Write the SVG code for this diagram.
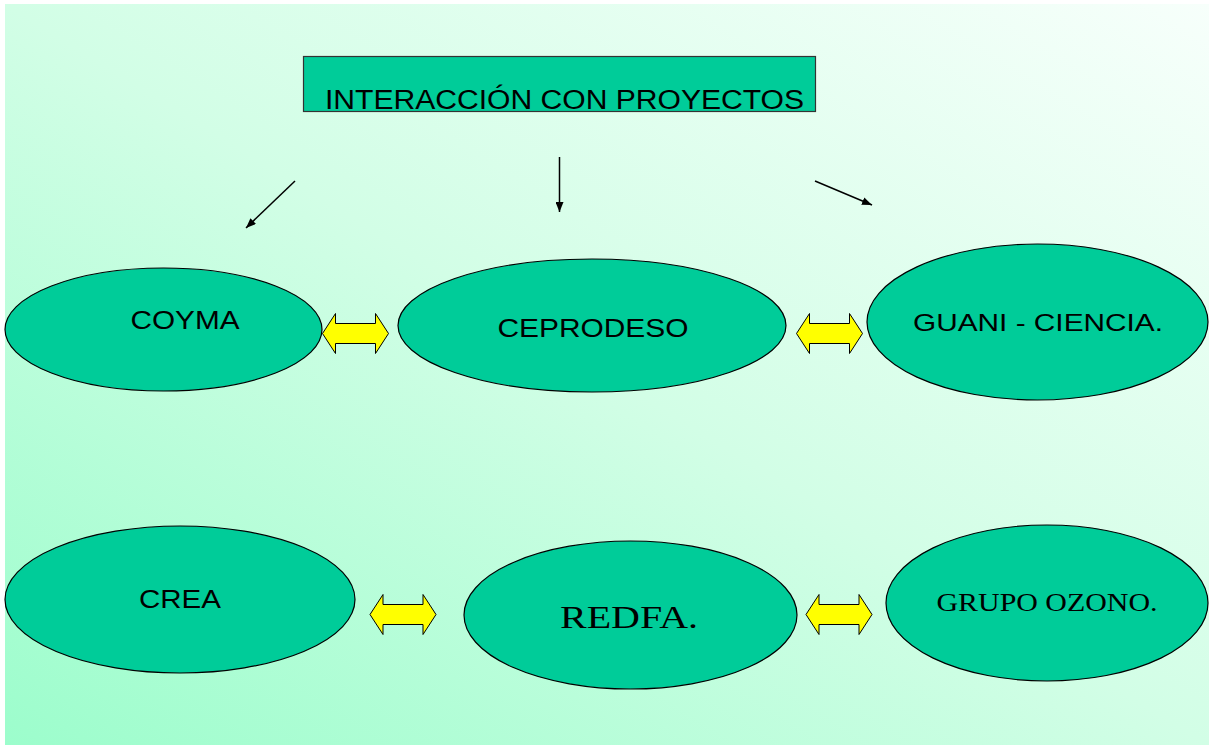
<svg xmlns="http://www.w3.org/2000/svg" width="1209" height="745" viewBox="0 0 1209 745">
<defs>
<linearGradient id="bg" x1="0" y1="1" x2="1" y2="0">
<stop offset="0" stop-color="#9cfdcc"/>
<stop offset="0.5" stop-color="#d2fee6"/>
<stop offset="1" stop-color="#f7fffb"/>
</linearGradient>
<marker id="ah" markerWidth="10" markerHeight="8" refX="10" refY="4" orient="auto" markerUnits="userSpaceOnUse">
<path d="M0,0 L10,4 L0,8 Z" fill="#000"/>
</marker>
<path id="dbl" d="M0,0 L13,-20 L13,-10 L53,-10 L53,-20 L66,0 L53,20 L53,10 L13,10 L13,20 Z"/>
</defs>
<style>
.node{fill:#00cc99;stroke:#000;stroke-width:1.2}
.sans{font-family:"Liberation Sans",Arial,sans-serif;fill:#000}
.serif{font-family:"Liberation Serif","Times New Roman",serif;fill:#000}
.conn{stroke:#000;stroke-width:1.5;fill:none;marker-end:url(#ah)}
.dbl{fill:#ffff00;stroke:#000;stroke-width:1}
</style>
<rect x="0" y="0" width="1209" height="745" fill="#fff"/>
<rect x="5" y="4" width="1204" height="741" fill="url(#bg)"/>

<g id="title">
<rect x="303.5" y="56.5" width="512" height="55" fill="#00cc99" stroke="#333" stroke-width="1.2"/>
<text class="sans" x="325" y="109" font-size="27" textLength="479" lengthAdjust="spacingAndGlyphs">INTERACCIÓN CON PROYECTOS</text>
</g>

<g id="connectors">
<line class="conn" x1="295" y1="181" x2="246" y2="228"/>
<line class="conn" x1="559.5" y1="157" x2="559.5" y2="212"/>
<line class="conn" x1="815" y1="181" x2="872" y2="205"/>
<use href="#dbl" class="dbl" x="322.5" y="333.5"/>
<use href="#dbl" class="dbl" x="796.5" y="333.5"/>
<use href="#dbl" class="dbl" x="370" y="614.5"/>
<use href="#dbl" class="dbl" x="806" y="614.5"/>
</g>

<g id="coyma">
<ellipse class="node" cx="163.5" cy="329.5" rx="158.5" ry="61.5"/>
<text class="sans" x="130.5" y="328.5" font-size="25.5" textLength="109" lengthAdjust="spacingAndGlyphs">COYMA</text>
</g>
<g id="ceprodeso">
<ellipse class="node" cx="592" cy="325.5" rx="194" ry="66.5"/>
<text class="sans" x="497.5" y="336.5" font-size="26" textLength="191" lengthAdjust="spacingAndGlyphs">CEPRODESO</text>
</g>
<g id="guani">
<ellipse class="node" cx="1037.5" cy="322" rx="170.5" ry="78"/>
<text class="sans" x="913" y="330.5" font-size="24" textLength="250" lengthAdjust="spacingAndGlyphs">GUANI - CIENCIA.</text>
</g>
<g id="crea">
<ellipse class="node" cx="180" cy="599.5" rx="175" ry="73.5"/>
<text class="sans" x="139" y="608" font-size="25.5" textLength="82" lengthAdjust="spacingAndGlyphs">CREA</text>
</g>
<g id="redfa">
<ellipse class="node" cx="630.5" cy="615" rx="166.5" ry="74"/>
<text class="serif" x="560" y="628" font-size="32.5" textLength="138" lengthAdjust="spacingAndGlyphs">REDFA.</text>
</g>
<g id="ozono">
<ellipse class="node" cx="1047" cy="603" rx="161" ry="78"/>
<text class="serif" x="936.5" y="611" font-size="25" textLength="221" lengthAdjust="spacingAndGlyphs">GRUPO OZONO.</text>
</g>
</svg>
